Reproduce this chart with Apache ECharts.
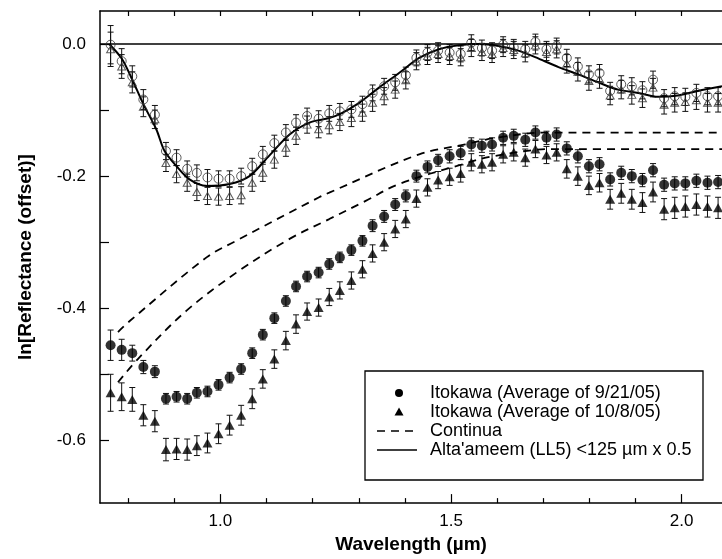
<!DOCTYPE html>
<html><head><meta charset="utf-8">
<script src="https://cdn.jsdelivr.net/npm/echarts@6/dist/echarts.min.js"></script>
<style>html,body{margin:0;padding:0;background:#fff}#c{width:722px;height:559px}</style>
</head><body><div id="c"></div>
<script>
// ---- data ----
const wavelength = [0.762,0.786,0.809,0.833,0.858,0.882,0.905,0.928,0.949,0.972,0.996,1.020,1.045,1.069,1.092,1.117,1.142,1.164,1.188,1.213,1.236,1.259,1.284,1.308,1.330,1.355,1.379,1.402,1.425,1.449,1.472,1.497,1.521,1.544,1.567,1.589,1.613,1.636,1.661,1.683,1.707,1.729,1.751,1.775,1.799,1.822,1.845,1.869,1.892,1.915,1.938,1.962,1.985,2.008,2.032,2.056,2.079];
const itokawa0921 = [-0.456,-0.463,-0.468,-0.489,-0.496,-0.537,-0.534,-0.537,-0.528,-0.526,-0.516,-0.505,-0.492,-0.468,-0.440,-0.415,-0.389,-0.367,-0.352,-0.346,-0.333,-0.323,-0.312,-0.298,-0.275,-0.261,-0.243,-0.230,-0.200,-0.186,-0.176,-0.170,-0.165,-0.152,-0.154,-0.152,-0.142,-0.139,-0.145,-0.134,-0.142,-0.137,-0.158,-0.170,-0.185,-0.182,-0.205,-0.195,-0.200,-0.206,-0.191,-0.213,-0.211,-0.211,-0.207,-0.210,-0.209];
const err0921 = [0.023,0.016,0.012,0.010,0.009,0.008,0.008,0.008,0.008,0.008,0.008,0.008,0.008,0.008,0.008,0.008,0.008,0.008,0.008,0.008,0.008,0.008,0.008,0.008,0.009,0.009,0.009,0.009,0.009,0.009,0.009,0.010,0.010,0.010,0.010,0.010,0.010,0.010,0.010,0.010,0.010,0.010,0.010,0.010,0.010,0.010,0.010,0.010,0.010,0.010,0.010,0.010,0.010,0.010,0.010,0.010,0.010];
const itokawa1008 = [-0.528,-0.534,-0.538,-0.562,-0.571,-0.614,-0.613,-0.614,-0.608,-0.604,-0.590,-0.577,-0.562,-0.537,-0.507,-0.477,-0.449,-0.424,-0.405,-0.399,-0.383,-0.373,-0.358,-0.341,-0.317,-0.300,-0.280,-0.265,-0.234,-0.217,-0.206,-0.201,-0.196,-0.179,-0.182,-0.179,-0.167,-0.164,-0.172,-0.159,-0.168,-0.164,-0.189,-0.200,-0.214,-0.210,-0.235,-0.226,-0.235,-0.240,-0.224,-0.250,-0.248,-0.246,-0.243,-0.246,-0.248];
const err1008 = [0.028,0.021,0.018,0.016,0.016,0.017,0.016,0.016,0.015,0.015,0.015,0.015,0.015,0.015,0.014,0.014,0.014,0.014,0.013,0.013,0.013,0.013,0.013,0.013,0.013,0.013,0.013,0.013,0.013,0.013,0.013,0.013,0.013,0.013,0.013,0.013,0.013,0.013,0.013,0.013,0.013,0.013,0.014,0.014,0.014,0.014,0.015,0.015,0.015,0.015,0.015,0.016,0.016,0.016,0.016,0.016,0.016];
const removed0921 = [-0.001,-0.026,-0.049,-0.084,-0.107,-0.162,-0.172,-0.189,-0.195,-0.202,-0.204,-0.204,-0.200,-0.185,-0.167,-0.150,-0.134,-0.119,-0.109,-0.113,-0.105,-0.102,-0.099,-0.091,-0.074,-0.064,-0.058,-0.047,-0.021,-0.013,-0.010,-0.013,-0.015,0.002,-0.006,-0.010,-0.001,-0.005,-0.008,0.003,-0.008,-0.003,-0.021,-0.034,-0.046,-0.044,-0.071,-0.061,-0.064,-0.070,-0.054,-0.082,-0.079,-0.080,-0.074,-0.079,-0.079];
const errRemoved0921 = [0.029,0.019,0.016,0.015,0.014,0.013,0.012,0.012,0.012,0.012,0.012,0.012,0.012,0.012,0.012,0.012,0.012,0.012,0.012,0.012,0.012,0.012,0.012,0.012,0.012,0.012,0.012,0.012,0.012,0.012,0.012,0.012,0.012,0.012,0.012,0.012,0.012,0.012,0.012,0.012,0.012,0.012,0.013,0.013,0.013,0.013,0.013,0.013,0.013,0.013,0.013,0.013,0.013,0.013,0.013,0.013,0.013];
const removed1008 = [-0.008,-0.034,-0.058,-0.095,-0.114,-0.180,-0.197,-0.210,-0.224,-0.230,-0.231,-0.230,-0.229,-0.210,-0.195,-0.175,-0.157,-0.139,-0.122,-0.129,-0.123,-0.118,-0.112,-0.104,-0.089,-0.079,-0.069,-0.055,-0.026,-0.018,-0.015,-0.018,-0.020,-0.006,-0.012,-0.015,-0.006,-0.009,-0.014,-0.002,-0.012,-0.008,-0.030,-0.042,-0.056,-0.053,-0.078,-0.069,-0.077,-0.082,-0.066,-0.092,-0.089,-0.088,-0.085,-0.089,-0.089];
const errRemoved1008 = [0.026,0.018,0.016,0.015,0.014,0.013,0.013,0.013,0.013,0.013,0.013,0.013,0.013,0.013,0.013,0.013,0.013,0.013,0.013,0.013,0.013,0.013,0.013,0.013,0.013,0.013,0.013,0.013,0.013,0.013,0.013,0.013,0.013,0.013,0.013,0.013,0.013,0.013,0.013,0.013,0.013,0.013,0.014,0.014,0.014,0.014,0.014,0.014,0.014,0.014,0.014,0.014,0.014,0.014,0.014,0.014,0.014];

const continuumUpperX = [0.778,0.804,0.970,1.034,1.214,1.236,1.431,1.531,1.590,1.705,2.0875];
const continuumUpperY = [-0.436,-0.419,-0.323,-0.298,-0.232,-0.225,-0.167,-0.152,-0.143,-0.134,-0.134];
const continuumLowerX = [0.778,0.825,0.926,1.041,1.150,1.236,1.315,1.387,1.525,1.590,1.720,2.0875];
const continuumLowerY = [-0.512,-0.474,-0.404,-0.343,-0.295,-0.265,-0.2375,-0.212,-0.182,-0.170,-0.159,-0.159];

const altaX = [0.759,0.786,0.807,0.833,0.861,0.879,0.905,0.933,0.970,1.020,1.063,1.106,1.150,1.193,1.236,1.258,1.301,1.344,1.388,1.431,1.474,1.517,1.560,1.603,1.646,1.690,1.733,1.776,1.819,1.862,1.906,1.949,1.992,2.035,2.0875];
const altaY = [0.000,-0.022,-0.051,-0.091,-0.129,-0.162,-0.185,-0.205,-0.215,-0.212,-0.200,-0.169,-0.137,-0.119,-0.112,-0.1065,-0.089,-0.066,-0.0435,-0.021,-0.008,-0.002,0.000,-0.003,-0.010,-0.022,-0.035,-0.046,-0.058,-0.069,-0.074,-0.080,-0.078,-0.071,-0.064];

const xLabelValues = [1.0, 1.5, 2.0];
const xMinorTickValues = [0.8, 0.9, 1.1, 1.2, 1.3, 1.4, 1.6, 1.7, 1.8, 1.9];
const xAllTickValues = [0.8, 0.9, 1.0, 1.1, 1.2, 1.3, 1.4, 1.5, 1.6, 1.7, 1.8, 1.9, 2.0];
const yLabelValues = [0.0, -0.2, -0.4, -0.6];
const yTickValues = [0.0, -0.1, -0.2, -0.3, -0.4, -0.5, -0.6];

const legendLabels = ['Itokawa (Average of 9/21/05)', 'Itokawa (Average of 10/8/05)', 'Continua', "Alta'ameem (LL5) <125 \u00b5m x 0.5"];

// ---- chart ----
const FONT = '"Liberation Sans", Arial, Helvetica, sans-serif';
const X_MIN = 0.739, X_MAX = 2.0875, Y_MIN = -0.695, Y_MAX = 0.05;

function pairs(xs, ys) { return xs.map((x, i) => [x, ys[i]]); }
function triples(ys, es) { return wavelength.map((x, i) => [x, ys[i], es[i]]); }

function errRender(params, api) {
  const x = api.value(0), y = api.value(1), e = api.value(2);
  const p1 = api.coord([x, y + e]), p2 = api.coord([x, y - e]);
  const w = 3;
  const st = { stroke: '#111', lineWidth: 1 };
  return { type: 'group', children: [
    { type: 'line', shape: { x1: p1[0], y1: p1[1], x2: p2[0], y2: p2[1] }, style: st },
    { type: 'line', shape: { x1: p1[0] - w, y1: p1[1], x2: p1[0] + w, y2: p1[1] }, style: st },
    { type: 'line', shape: { x1: p2[0] - w, y1: p2[1], x2: p2[0] + w, y2: p2[1] }, style: st }
  ]};
}
function errSeries(ys, es) {
  return { type: 'custom', renderItem: errRender, data: triples(ys, es), encode: { x: 0, y: 1 }, z: 2, silent: true };
}

const chart = echarts.init(document.getElementById('c'), null, { renderer: 'canvas' });

const legendX = 365, legendY = 371, rowY = [393, 412, 431, 450];
const legendGraphics = [
  { type: 'rect', shape: { x: legendX, y: legendY, width: 338, height: 109 }, style: { fill: '#fff', stroke: '#000', lineWidth: 1.3 }, z: 100 },
  { type: 'circle', shape: { cx: 399, cy: rowY[0], r: 4 }, style: { fill: '#000' }, z: 101 },
  { type: 'polygon', shape: { points: [[399, rowY[1] - 4.5], [403.5, rowY[1] + 3.5], [394.5, rowY[1] + 3.5]] }, style: { fill: '#000' }, z: 101 },
  { type: 'line', shape: { x1: 377, y1: rowY[2], x2: 417, y2: rowY[2] }, style: { stroke: '#000', lineWidth: 1.6, lineDash: [8, 6] }, z: 101 },
  { type: 'line', shape: { x1: 377, y1: rowY[3], x2: 417, y2: rowY[3] }, style: { stroke: '#000', lineWidth: 1.6 }, z: 101 }
];
legendLabels.forEach((t, i) => legendGraphics.push({
  type: 'text', x: 430, y: rowY[i], z: 101,
  style: { text: t, fill: '#000', font: '18px ' + FONT, align: 'left', verticalAlign: 'middle' }
}));

const option = {
  animation: false,
  backgroundColor: '#fff',
  grid: { left: 100, top: 11, right: -2, bottom: 54, containLabel: false },
  xAxis: [
    {
      type: 'value', min: X_MIN, max: X_MAX, position: 'bottom',
      name: 'Wavelength (\u00b5m)', nameLocation: 'middle', nameGap: 30,
      nameTextStyle: { fontFamily: FONT, fontSize: 19, fontWeight: 'bold', color: '#000' },
      axisLine: { show: true, onZero: false, lineStyle: { color: '#000', width: 1.5 } },
      axisTick: { show: true, inside: true, length: 9, customValues: xLabelValues, lineStyle: { color: '#000', width: 1.2 } },
      axisLabel: { show: true, customValues: xLabelValues, formatter: v => Number(v).toFixed(1), fontFamily: FONT, fontSize: 17, color: '#000', margin: 10 },
      splitLine: { show: false }
    },
    {
      type: 'value', min: X_MIN, max: X_MAX, position: 'bottom',
      axisLine: { show: false, onZero: false },
      axisTick: { show: true, inside: true, length: 5, customValues: xMinorTickValues, lineStyle: { color: '#000', width: 1.2 } },
      axisLabel: { show: false },
      splitLine: { show: false }
    },
    {
      type: 'value', min: X_MIN, max: X_MAX, position: 'top',
      axisLine: { show: true, onZero: false, lineStyle: { color: '#000', width: 1.5 } },
      axisTick: { show: true, inside: true, length: 5, customValues: xAllTickValues, lineStyle: { color: '#000', width: 1.2 } },
      axisLabel: { show: false },
      splitLine: { show: false }
    }
  ],
  yAxis: [{
    type: 'value', min: Y_MIN, max: Y_MAX,
    name: 'ln[Reflectance (offset)]', nameLocation: 'middle', nameGap: 65, nameRotate: 90,
    nameTextStyle: { fontFamily: FONT, fontSize: 19, fontWeight: 'bold', color: '#000' },
    axisLine: { show: true, onZero: false, lineStyle: { color: '#000', width: 1.5 } },
    axisTick: { show: true, inside: true, length: 9, customValues: yTickValues, lineStyle: { color: '#000', width: 1.2 } },
    axisLabel: { show: true, customValues: yLabelValues, formatter: v => Number(v).toFixed(1), fontFamily: FONT, fontSize: 17, color: '#000', margin: 14 },
    splitLine: { show: false }
  }],
  graphic: legendGraphics,
  series: [
    errSeries(removed0921, errRemoved0921),
    errSeries(removed1008, errRemoved1008),
    errSeries(itokawa0921, err0921),
    errSeries(itokawa1008, err1008),
    {
      name: 'Continua', type: 'line', data: pairs(continuumUpperX, continuumUpperY), smooth: 0.35,
      symbol: 'none', lineStyle: { color: '#000', width: 1.8, type: [8, 6] }, z: 3, silent: true
    },
    {
      name: 'Continua', type: 'line', data: pairs(continuumLowerX, continuumLowerY), smooth: 0.35,
      symbol: 'none', lineStyle: { color: '#000', width: 1.8, type: [8, 6] }, z: 3, silent: true
    },
    {
      name: legendLabels[3], type: 'line', data: pairs(altaX, altaY), smooth: 0.3,
      symbol: 'none', lineStyle: { color: '#000', width: 2 }, z: 4, silent: true,
      markLine: {
        silent: true, symbol: 'none', label: { show: false },
        lineStyle: { color: '#000', width: 1.5, type: 'solid' },
        data: [{ yAxis: 0 }]
      }
    },
    {
      name: 'removed 9/21/05', type: 'scatter', data: pairs(wavelength, removed0921),
      symbol: 'circle', symbolSize: 9,
      itemStyle: { color: 'rgba(0,0,0,0)', borderColor: '#333', borderWidth: 1 }, z: 5, silent: true
    },
    {
      name: 'removed 10/8/05', type: 'scatter', data: pairs(wavelength, removed1008),
      symbol: 'triangle', symbolSize: [8, 7],
      itemStyle: { color: 'rgba(0,0,0,0)', borderColor: '#333', borderWidth: 1 }, z: 5, silent: true
    },
    {
      name: legendLabels[0], type: 'scatter', data: pairs(wavelength, itokawa0921),
      symbol: 'circle', symbolSize: 10, itemStyle: { color: '#000' }, z: 6, silent: true
    },
    {
      name: legendLabels[1], type: 'scatter', data: pairs(wavelength, itokawa1008),
      symbol: 'triangle', symbolSize: [10, 9], itemStyle: { color: '#000' }, z: 6, silent: true
    }
  ]
};
chart.setOption(option);
</script>
</body></html>
